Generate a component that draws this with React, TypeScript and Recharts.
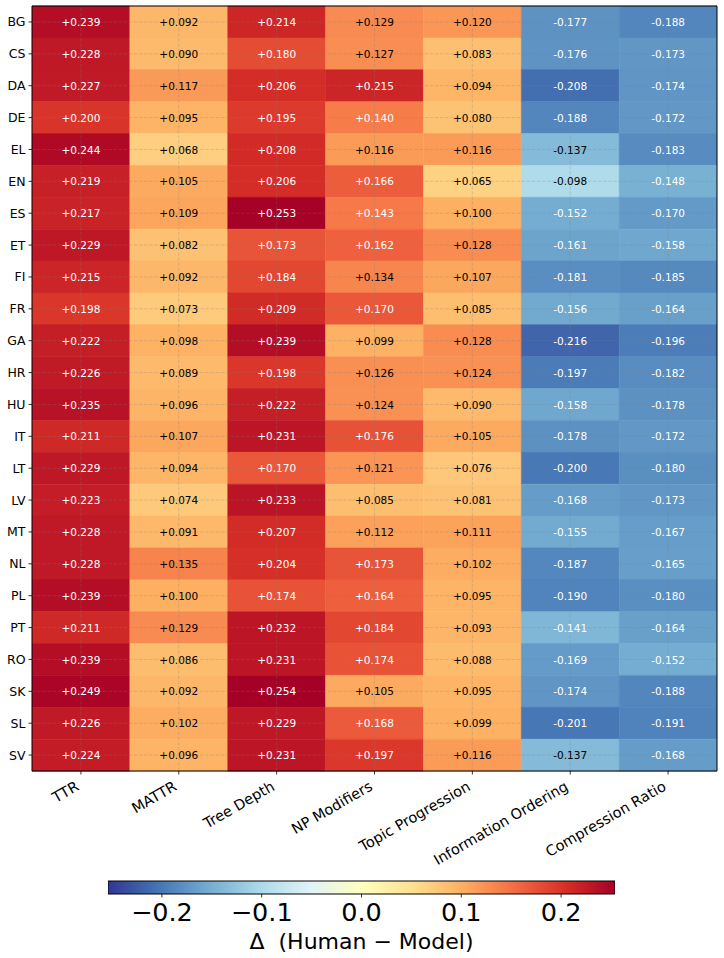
import React from 'react';
import {
  BarChart,
  Bar,
  Cell,
  XAxis,
  YAxis,
  LabelList,
  ReferenceLine,
} from 'recharts';

// Languages (rows) and metrics (columns)
const languages = ['BG', 'CS', 'DA', 'DE', 'EL', 'EN', 'ES', 'ET', 'FI', 'FR', 'GA', 'HR', 'HU', 'IT', 'LT', 'LV', 'MT', 'NL', 'PL', 'PT', 'RO', 'SK', 'SL', 'SV'];
const metrics = ['TTR', 'MATTR', 'Tree Depth', 'NP Modifiers', 'Topic Progression', 'Information Ordering', 'Compression Ratio'];

// Δ (Human − Model) per metric, one value per language in the order above
const ttr = [0.239, 0.228, 0.227, 0.2, 0.244, 0.219, 0.217, 0.229, 0.215, 0.198, 0.222, 0.226, 0.235, 0.211, 0.229, 0.223, 0.228, 0.228, 0.239, 0.211, 0.239, 0.249, 0.226, 0.224];
const mattr = [0.092, 0.09, 0.117, 0.095, 0.068, 0.105, 0.109, 0.082, 0.092, 0.073, 0.098, 0.089, 0.096, 0.107, 0.094, 0.074, 0.091, 0.135, 0.1, 0.129, 0.086, 0.092, 0.102, 0.096];
const treeDepth = [0.214, 0.18, 0.206, 0.195, 0.208, 0.206, 0.253, 0.173, 0.184, 0.209, 0.239, 0.198, 0.222, 0.231, 0.17, 0.233, 0.207, 0.204, 0.174, 0.232, 0.231, 0.254, 0.229, 0.231];
const npModifiers = [0.129, 0.127, 0.215, 0.14, 0.116, 0.166, 0.143, 0.162, 0.134, 0.17, 0.099, 0.126, 0.124, 0.176, 0.121, 0.085, 0.112, 0.173, 0.164, 0.184, 0.174, 0.105, 0.168, 0.197];
const topicProgression = [0.12, 0.083, 0.094, 0.08, 0.116, 0.065, 0.1, 0.128, 0.107, 0.085, 0.128, 0.124, 0.09, 0.105, 0.076, 0.081, 0.111, 0.102, 0.095, 0.093, 0.088, 0.095, 0.099, 0.116];
const infoOrdering = [-0.177, -0.176, -0.208, -0.188, -0.137, -0.098, -0.152, -0.161, -0.181, -0.156, -0.216, -0.197, -0.158, -0.178, -0.2, -0.168, -0.155, -0.187, -0.19, -0.141, -0.169, -0.174, -0.201, -0.137];
const compressionRatio = [-0.188, -0.173, -0.174, -0.172, -0.183, -0.148, -0.17, -0.158, -0.185, -0.164, -0.196, -0.182, -0.178, -0.172, -0.18, -0.173, -0.167, -0.165, -0.18, -0.164, -0.152, -0.188, -0.191, -0.168];

const metricValues = [ttr, mattr, treeDepth, npModifiers, topicProgression, infoOrdering, compressionRatio];

// Colour scale limits and colorbar ticks
const vmax = 0.254;
const colorbarTicks = [-0.2, -0.1, 0, 0.1, 0.2];
const columnCenters = metrics.map((_, j) => j + 0.5);

// RdYlBu reversed (blue → yellow → red)
const RDYLBU_R = ['#313695', '#4575b4', '#74add1', '#abd9e9', '#e0f3f8', '#ffffbf', '#fee090', '#fdae61', '#f46d43', '#d73027', '#a50026'];

const hexToRgb = (h: string) => [1, 3, 5].map((k) => parseInt(h.slice(k, k + 2), 16));

function colorFor(v: number): string {
  let t = (v + vmax) / (2 * vmax);
  t = Math.max(0, Math.min(1, t));
  const p = t * (RDYLBU_R.length - 1);
  const i = Math.min(Math.floor(p), RDYLBU_R.length - 2);
  const f = p - i;
  const a = hexToRgb(RDYLBU_R[i]);
  const b = hexToRgb(RDYLBU_R[i + 1]);
  const c = a.map((x, k) => Math.round(x + (b[k] - x) * f));
  return `rgb(${c[0]},${c[1]},${c[2]})`;
}

// Each row holds a unit-width segment per metric plus the metric's value
const rows = languages.map((lang, i) => {
  const r: Record<string, string | number> = { lang };
  metricValues.forEach((vals, j) => {
    r[`c${j}`] = 1;
    r[`v${j}`] = vals[i];
  });
  return r;
});

// The colorbar is a single range bar spanning the colour limits
const colorbarData = [{ name: 'scale', range: [-vmax, vmax] }];

const fmtCell = (v: number) => (v >= 0 ? `+${v.toFixed(3)}` : v.toFixed(3));
const fmtBar = (v: number) => {
  const s = Math.abs(v).toFixed(1);
  return v < -1e-9 ? `\u2212${s}` : s;
};

const CellLabel = (props: any) => {
  const { x, y, width, height, value } = props;
  const v = Number(value);
  return (
    <text
      x={Number(x) + Number(width) / 2}
      y={Number(y) + Number(height) / 2}
      textAnchor="middle"
      dominantBaseline="central"
      fontSize={10.5}
      fill={Math.abs(v) > 0.138 ? '#ffffff' : '#000000'}
    >
      {fmtCell(v)}
    </text>
  );
};

const MetricTick = (props: any) => {
  const { x, y, payload } = props;
  const label = metrics[Math.floor(payload.value)];
  return (
    <g transform={`translate(${x - 7.5},${y})`}>
      <text transform="rotate(-30)" textAnchor="end" dy="0.9em" fontSize={14.5} fill="#000">
        {label}
      </text>
    </g>
  );
};

const gridStyle = { stroke: '#808080', strokeOpacity: 0.4, strokeWidth: 0.7, strokeDasharray: '3.5 1.6' };

export default function App() {
  return (
    <div style={{ position: 'absolute', left: 0, top: 0, width: 724, height: 958, background: '#fff', fontFamily: 'DejaVu Sans' }}>
      <svg width={1} height={1} style={{ position: 'absolute', left: 0, top: 0 }}>
        <defs>
          <linearGradient id="cbarGrad" x1="0" y1="0" x2="1" y2="0">
            {RDYLBU_R.map((c, i) => (
              <stop key={i} offset={`${(i / (RDYLBU_R.length - 1)) * 100}%`} stopColor={c} />
            ))}
          </linearGradient>
        </defs>
      </svg>

      <div style={{ position: 'absolute', left: 0, top: 0 }}>
        <BarChart
          width={724}
          height={870}
          data={rows}
          layout="vertical"
          margin={{ top: 6, right: 7, left: 0, bottom: 0 }}
          barCategoryGap={0}
          barGap={0}
        >
          <XAxis
            type="number"
            domain={[0, metrics.length]}
            ticks={columnCenters}
            interval={0}
            allowDataOverflow
            height={99}
            tickSize={3.5}
            tickMargin={3.5}
            tick={<MetricTick />}
            axisLine={{ stroke: '#000', strokeWidth: 1 }}
            tickLine={{ stroke: '#000', strokeWidth: 0.8 }}
          />
          <YAxis
            type="category"
            dataKey="lang"
            width={32}
            interval={0}
            tickSize={3.5}
            tickMargin={3}
            tick={{ fontSize: 12.5, fill: '#000' }}
            axisLine={{ stroke: '#000', strokeWidth: 1 }}
            tickLine={{ stroke: '#000', strokeWidth: 0.8 }}
          />
          {metricValues.map((vals, j) => (
            <Bar key={j} dataKey={`c${j}`} stackId="grid" isAnimationActive={false}>
              {vals.map((v, i) => (
                <Cell key={i} fill={colorFor(v)} stroke={colorFor(v)} strokeWidth={0.5} />
              ))}
              <LabelList dataKey={`v${j}`} content={CellLabel} />
            </Bar>
          ))}
          {columnCenters.map((c) => (
            <ReferenceLine key={`gx${c}`} x={c} {...gridStyle} />
          ))}
          {languages.map((l) => (
            <ReferenceLine key={`gy${l}`} y={l} {...gridStyle} />
          ))}
          <ReferenceLine x={metrics.length} stroke="#000" strokeWidth={1} />
          <ReferenceLine y={languages[0]} position="start" stroke="#000" strokeWidth={1} />
        </BarChart>
      </div>

      <div style={{ position: 'absolute', left: 0, top: 870 }}>
        <BarChart
          width={724}
          height={88}
          data={colorbarData}
          layout="vertical"
          margin={{ top: 11, right: 109, left: 108, bottom: 0 }}
          barCategoryGap={0}
        >
          <XAxis
            type="number"
            domain={[-vmax, vmax]}
            ticks={colorbarTicks}
            interval={0}
            allowDataOverflow
            height={64}
            tickSize={3.5}
            tickMargin={5.5}
            tickFormatter={fmtBar}
            tick={{ fontSize: 25.5, fill: '#000' }}
            axisLine={false}
            tickLine={{ stroke: '#000', strokeWidth: 0.8 }}
            label={{ value: '\u0394\u00a0 (Human \u2212 Model)', position: 'insideBottom', offset: 9, fontSize: 22, fill: '#000' }}
          />
          <YAxis type="category" dataKey="name" hide />
          <Bar dataKey="range" fill="url(#cbarGrad)" stroke="#000" strokeWidth={1} isAnimationActive={false} />
        </BarChart>
      </div>
    </div>
  );
}
